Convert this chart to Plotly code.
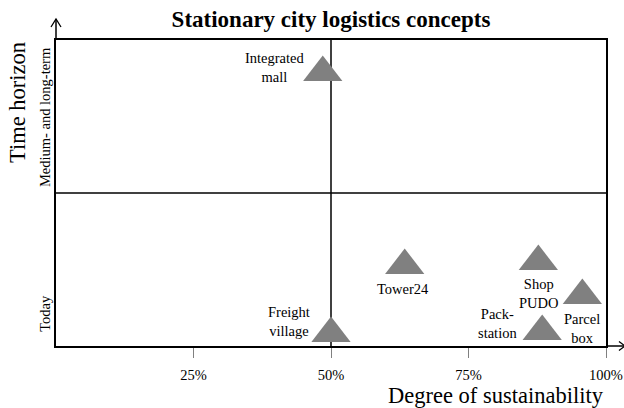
import plotly.graph_objects as go

# ---- data ----
concepts = ["Integrated<br>mall", "Freight<br>village", "Tower24", "Shop<br>PUDO", "Pack-<br>station", "Parcel<br>box"]
sustainability = [48.5, 50.0, 63.4, 87.7, 88.4, 95.7]   # % degree of sustainability
horizon = [0.894, 0.041, 0.263, 0.276, 0.047, 0.165]    # 0 = today, 1 = long-term
x_tick_vals = [25, 50, 75, 100]
x_tick_text = ["25%", "50%", "75%", "100%"]
y_labels = ["Today", "Medium- and long-term"]
y_label_pos = [0.105, 0.748]

# ---- label offsets (px) ----
label_dx = [-48, -42, -1.5, 0, -45, 0]
label_dy = [5, 12, -23.5, -31.5, 8.5, -32.5]

FONT = "Liberation Serif"
GRAY = "#808080"

fig = go.Figure()
fig.add_trace(go.Scatter(
    x=sustainability, y=horizon, mode="markers",
    marker=dict(symbol="triangle-up", size=34, color=GRAY, line=dict(width=0)),
    hoverinfo="skip", showlegend=False, cliponaxis=False,
))

annotations = []
for name, xv, yv, dx, dy in zip(concepts, sustainability, horizon, label_dx, label_dy):
    annotations.append(dict(x=xv, y=yv, xref="x", yref="y", text=name, showarrow=False,
                            xshift=dx, yshift=dy, align="center",
                            font=dict(family=FONT, size=14.5, color="black")))

for txt, pos in zip(y_labels, y_label_pos):
    annotations.append(dict(x=0, y=pos, xref="paper", yref="y", text=txt, showarrow=False,
                            textangle=-90, xshift=-11, xanchor="center", yanchor="middle",
                            font=dict(family=FONT, size=14.5, color="black")))

annotations.append(dict(x=0, y=0.794, xref="paper", yref="paper", text="Time horizon",
                        showarrow=False, textangle=-90, xshift=-39, xanchor="center",
                        yanchor="middle", font=dict(family=FONT, size=22.5, color="black")))
annotations.append(dict(x=1, y=0, xref="paper", yref="paper", text="Degree of sustainability",
                        showarrow=False, xanchor="right", yanchor="middle", yshift=-49,
                        font=dict(family=FONT, size=22.5, color="black")))

shapes = [
    dict(type="line", xref="x", yref="paper", x0=50, x1=50, y0=0, y1=1,
         line=dict(color="black", width=1.5), layer="below"),
    dict(type="line", xref="paper", yref="y", x0=0, x1=1, y0=0.5, y1=0.5,
         line=dict(color="black", width=1.5), layer="below"),
    # y-axis arrow
    dict(type="line", xref="paper", yref="paper", x0=0, x1=0, y0=1, y1=1.0686,
         line=dict(color="black", width=1.5)),
    dict(type="path", xref="paper", yref="paper",
         path="M -0.00909,1.0425 L 0,1.0686 L 0.00909,1.0425",
         line=dict(color="black", width=1.3)),
    # x-axis arrow
    dict(type="line", xref="paper", yref="paper", x0=1, x1=1.0345, y0=0, y1=0,
         line=dict(color="black", width=1.5)),
    dict(type="path", xref="paper", yref="paper",
         path="M 1.0236,0.0147 L 1.0345,0 L 1.0236,-0.0147",
         line=dict(color="black", width=1.3)),
]

fig.update_layout(
    width=624, height=408, autosize=False,
    margin=dict(l=56, r=18, t=40, b=62, pad=0),
    paper_bgcolor="white", plot_bgcolor="white",
    font=dict(family=FONT, color="black"),
    title=dict(text="<b>Stationary city logistics concepts</b>", x=0.5, xref="paper",
               y=1 - 19 / 408, yanchor="middle", xanchor="center",
               font=dict(family=FONT, size=23, color="black")),
    xaxis=dict(range=[0, 100], tickvals=x_tick_vals, ticktext=x_tick_text,
               showline=True, mirror=True, linecolor="black", linewidth=1.5,
               ticks="outside", ticklen=10, tickcolor=GRAY, tickwidth=1,
               showgrid=False, zeroline=False, ticklabelstandoff=5, automargin=False,
               tickfont=dict(family=FONT, size=14.5, color="black")),
    yaxis=dict(range=[0, 1], showticklabels=False, ticks="", automargin=False,
               showline=True, mirror=True, linecolor="black", linewidth=1.5,
               showgrid=False, zeroline=False),
    annotations=annotations, shapes=shapes,
)

fig.write_html("out.html", config={"responsive": False, "displayModeBar": False},
               post_script="document.body.style.margin='0';document.body.style.overflow='hidden';")
